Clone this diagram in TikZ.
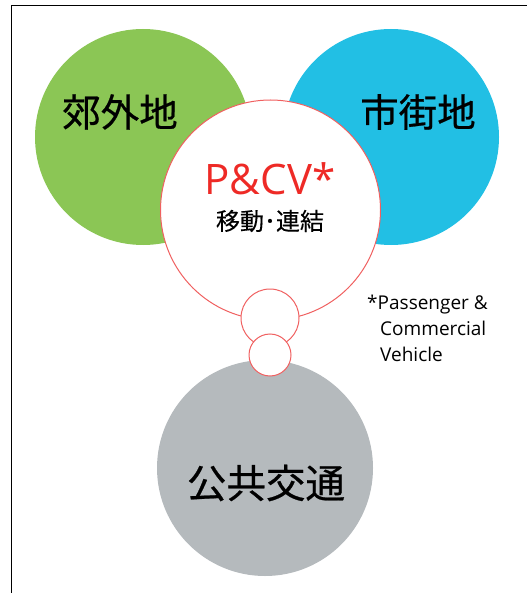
\documentclass[tikz,border=0pt]{standalone}
\usepackage{fontspec}
\setmainfont{Open Sans}
\newfontfamily\cjk[FakeBold=0.6]{Noto Sans CJK JP}
\newfontfamily\cjks[FakeBold=0.3]{Noto Sans CJK JP}
\definecolor{cgreen}{HTML}{8BC655}
\definecolor{cblue}{HTML}{22BFE4}
\definecolor{cgray}{HTML}{B5BABD}
\definecolor{cred}{HTML}{EE2A26}
\definecolor{cline}{HTML}{F06060}
\begin{document}
\begin{tikzpicture}[x=1pt,y=-1pt,
  disc/.style={circle,inner sep=0pt,outer sep=0pt},
  bigtxt/.style={inner sep=0pt,font=\cjk\fontsize{38.5}{40}\selectfont},
  note/.style={inner sep=0pt,anchor=base west,font=\fontsize{19}{22}\selectfont},
  ring/.style={disc,fill=white,draw=cline,line width=1pt}]
\useasboundingbox (0,0) rectangle (527,593);
\draw[line width=1.8pt] (11.5,593) -- (11.5,5.5) -- (527,5.5);
\node[disc,fill=cgreen,minimum size=216pt] (green) at (143,137) {};
\node[disc,fill=cblue,minimum size=216pt] (blue) at (391,137) {};
\node[disc,fill=cgray,minimum size=216pt] (gray) at (265,468) {};
\node[bigtxt] (t1) at (120,112) {郊外地};
\node[bigtxt] (t2) at (418,112) {市街地};
\node[bigtxt,font=\cjk\fontsize{39.5}{40}\selectfont] (t3) at (266,483) {公共交通};
\node[ring,minimum size=220pt] (main) at (270.5,210) {};
\node[ring,minimum size=58pt] (s1) at (270,318) {};
\node[ring,minimum size=42pt] (s2) at (270,355) {};
\node[inner sep=0pt,anchor=base,text=cred,font=\fontsize{42}{46}\selectfont] (pcv) at (270,195) {P\&CV*};
\node[inner sep=0pt,font=\cjks\fontsize{24}{26}\selectfont] (sub) at (270,221) {移動･連結};
\node[note] (n1) at (367,309) {*Passenger \&};
\node[note] (n2) at (380,335) {Commercial};
\node[note] (n3) at (380,361) {Vehicle};
\end{tikzpicture}
\end{document}
